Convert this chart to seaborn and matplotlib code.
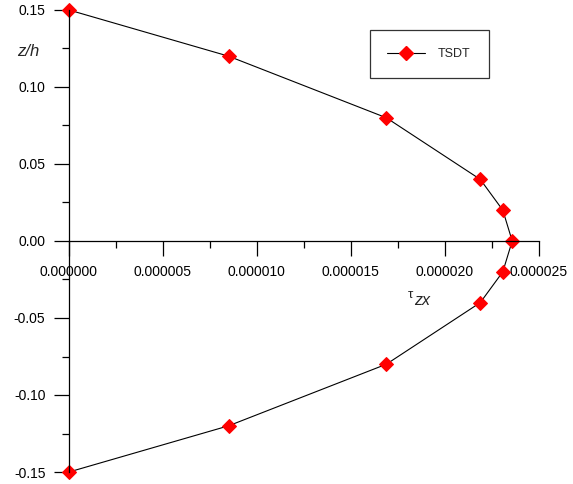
import matplotlib
matplotlib.use("Agg")
import matplotlib.pyplot as plt
import seaborn as sns
import pandas as pd
from matplotlib.ticker import MultipleLocator, FormatStrFormatter

# Transverse shear stress through the thickness
z_h = [0.15, 0.12, 0.08, 0.04, 0.02, 0.00, -0.02, -0.04, -0.08, -0.12, -0.15]
tau_zx = [0.0, 8.5e-6, 16.9e-6, 21.9e-6, 23.1e-6, 23.6e-6,
          23.1e-6, 21.9e-6, 16.9e-6, 8.5e-6, 0.0]
series_name = "TSDT"

df = pd.DataFrame({"tau": tau_zx, "z": z_h, "model": series_name})

sns.set_style("white")
plt.rcParams["font.family"] = ["Liberation Sans", "DejaVu Sans"]

fig = plt.figure(figsize=(5.73, 4.84), dpi=100)
ax = fig.add_axes([69 / 573, 1 - 472 / 484, (538.5 - 69) / 573, (472 - 10) / 484])

MS = 7.6
sns.lineplot(data=df, x="tau", y="z", hue="model", palette=["black"],
             sort=False, estimator=None, marker="D", markersize=MS,
             markerfacecolor="red", markeredgecolor="red", linewidth=0.8,
             ax=ax, clip_on=False, legend=False)
for ln in ax.get_lines():
    ln.set_clip_on(False)

ax.set_xlim(0, 0.000025)
ax.set_ylim(-0.15, 0.15)

# axes crossing at the origin
ax.spines["top"].set_visible(False)
ax.spines["right"].set_visible(False)
ax.spines["bottom"].set_position(("data", 0))
for s in ("left", "bottom"):
    ax.spines[s].set_color("black")
    ax.spines[s].set_linewidth(0.9)

ax.xaxis.set_major_locator(MultipleLocator(0.000005))
ax.xaxis.set_minor_locator(MultipleLocator(0.0000025))
ax.yaxis.set_major_locator(MultipleLocator(0.05))
ax.yaxis.set_minor_locator(MultipleLocator(0.025))
ax.xaxis.set_major_formatter(FormatStrFormatter("%.6f"))
ax.yaxis.set_major_formatter(FormatStrFormatter("%.2f"))

ax.tick_params(which="major", direction="out", length=11, width=0.9,
               color="black", labelsize=10, labelcolor="black", pad=6,
               bottom=True, left=True)
ax.tick_params(which="minor", direction="out", length=5, width=0.9,
               color="black", bottom=True, left=True)
ax.set_xlabel("")
ax.set_ylabel("")

# axis titles
fig.text(28.7 / 573, 1 - 52 / 484, "z/h", fontsize=12, style="italic",
         ha="center", va="center")
fig.text(410 / 573, 1 - 295 / 484, "τ", fontsize=9.5, ha="center", va="center")
fig.text(414 / 573, 1 - 300.5 / 484, "zx", fontsize=11.5, style="italic",
         ha="left", va="center")

# legend
handle = plt.Line2D([], [], color="black", linewidth=0.8, marker="D",
                    markersize=MS, markerfacecolor="red", markeredgecolor="red")
leg = fig.legend([handle], [series_name], loc="center",
                 bbox_to_anchor=(429 / 573, 1 - 54 / 484),
                 fontsize=9, frameon=True, fancybox=False, edgecolor="black",
                 borderpad=1.42, handlelength=3.0, handletextpad=1.07)
leg.get_frame().set_linewidth(0.9)

fig.savefig("out.png", dpi=100)
